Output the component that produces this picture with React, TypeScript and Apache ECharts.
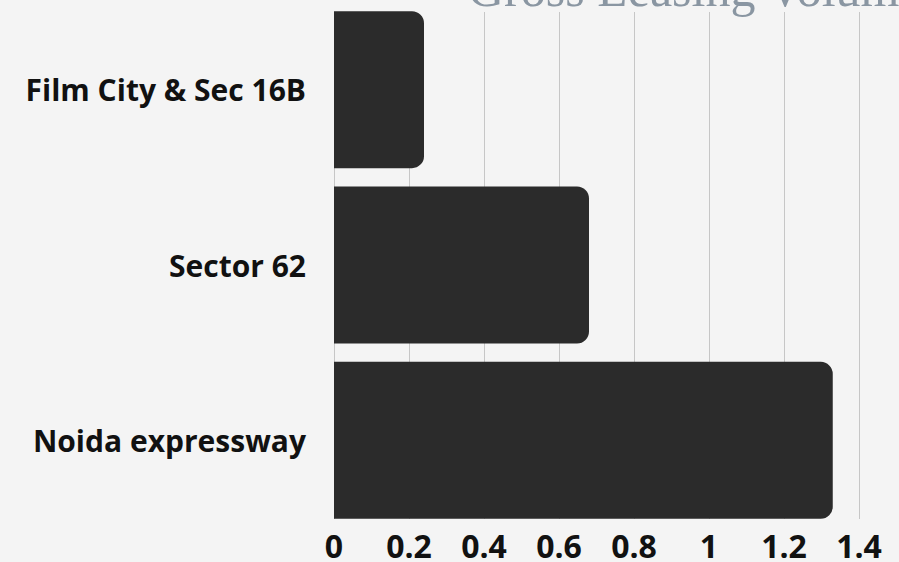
import React, { useEffect, useRef } from "react";
import * as echarts from "echarts";

const categories = ["Noida expressway", "Sector 62", "Film City & Sec 16B"];
const values = [1.33, 0.68, 0.24];
const titleText = "Gross Leasing Volume";
const xMin = 0;
const xMax = 1.4;
const xStep = 0.2;

export default function App() {
  const ref = useRef<HTMLDivElement>(null);
  useEffect(() => {
    if (!ref.current) return;
    const chart = echarts.init(ref.current, null, { renderer: "svg" });
    const labelFont = { fontFamily: "'Open Sans'", fontWeight: "bold" as const, color: "#111111" };
    chart.setOption({
      animation: false,
      backgroundColor: "#f4f4f4",
      grid: [
        { left: 334, right: 40, top: 2, bottom: 34, containLabel: false },
        { left: 334, right: 40, top: 12, bottom: 43, containLabel: false },
      ],
      xAxis: [
        {
          type: "value",
          gridIndex: 0,
          min: xMin,
          max: xMax,
          interval: xStep,
          axisLine: { show: false },
          axisTick: { show: false },
          splitLine: { show: false },
          axisLabel: {
            ...labelFont,
            fontSize: 32,
            lineHeight: 24,
            margin: 5,
            formatter: (v: number) => String(+v.toFixed(1)),
          },
        },
        {
          type: "value",
          gridIndex: 1,
          min: xMin,
          max: xMax,
          interval: xStep,
          axisLine: { show: false },
          axisTick: { show: false },
          axisLabel: { show: false },
          splitLine: { show: true, lineStyle: { color: "#c6c6c6", width: 1 } },
        },
      ],
      yAxis: [
        {
          type: "category",
          gridIndex: 0,
          data: categories,
          axisLine: { show: false },
          axisTick: { show: false },
          axisLabel: { ...labelFont, fontSize: 30, margin: 28 },
        },
        {
          type: "category",
          gridIndex: 1,
          data: categories,
          show: false,
        },
      ],
      graphic: [
        {
          type: "text",
          left: 468,
          top: -36,
          style: {
            text: titleText,
            font: "50px 'Liberation Serif'",
            fill: "#8a96a2",
          },
        },
      ],
      series: [
        {
          type: "bar",
          xAxisIndex: 0,
          yAxisIndex: 0,
          data: values,
          barCategoryGap: "10.5%",
          itemStyle: { color: "#2b2b2b", borderRadius: [0, 12, 12, 0] },
          z: 5,
        },
      ],
    });
    return () => chart.dispose();
  }, []);
  return <div ref={ref} style={{ width: 899, height: 562, position: "fixed", left: 0, top: 0 }} />;
}
